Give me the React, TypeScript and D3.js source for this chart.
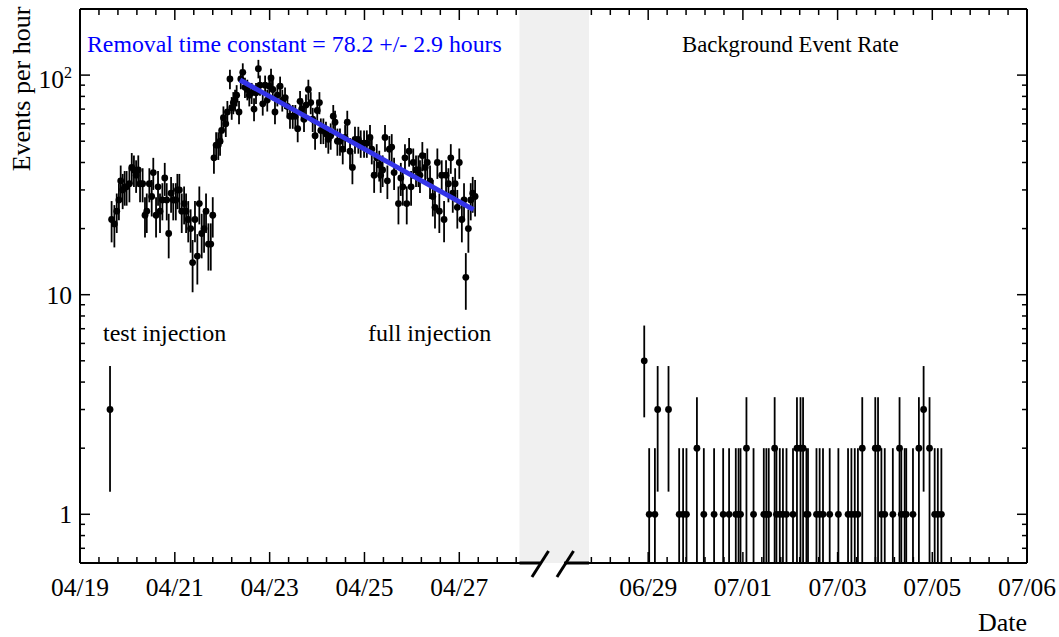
import React from 'react';
import * as d3 from 'd3';

// ---- tick labels (day index counted from 04/19 00:00) ----
const leftDateLabels = ['04/19', '04/21', '04/23', '04/25', '04/27'];
const leftDateDays = [0, 2, 4, 6, 8];
const rightDateLabels = ['06/29', '07/01', '07/03', '07/05', '07/06'];
const rightDateDays = [71, 73, 75, 77, 79];
const yMajorValues = [1, 10, 100];

// axis domain pieces: left panel, broken gap, right panel (days)
const axisDays = [0, 9.27, 69.75, 79];

// ---- data: [hours since 04/19 00:00, events per hour] ----
const testPoint: [number, number][] = [[15.2, 3]];
const testInjection: [number, number][] = [
  [16.0, 22], [17.4, 21], [18.6, 24], [19.7, 27], [20.6, 33], [21.6, 30], [22.6, 31], [23.6, 31],
  [25.0, 32], [26.2, 38], [27.3, 37], [28.4, 35], [29.5, 37], [30.4, 32], [31.7, 32], [32.9, 23],
  [33.8, 24], [35.1, 32], [36.3, 28], [37.1, 36], [38.5, 23], [39.5, 31], [40.5, 24], [41.7, 27],
  [42.9, 34], [43.9, 27], [44.9, 19], [46.1, 29], [47.2, 27], [48.5, 27], [49.3, 30], [50.3, 30],
  [51.5, 24], [52.7, 26], [53.7, 24], [54.8, 22], [56.0, 20], [57.0, 14], [58.2, 22], [59.4, 15],
  [60.4, 26], [61.6, 19], [62.8, 20], [63.8, 24], [65.0, 17], [66.2, 17], [67.2, 23],
];
const fullInjection: [number, number][] = [
  [67.8, 42], [68.9, 48], [70.0, 48], [70.9, 50], [71.7, 56], [72.6, 64], [73.8, 60], [74.6, 68],
  [75.9, 96], [76.8, 71], [77.6, 75], [78.5, 77], [79.3, 81], [80.5, 68], [81.4, 96], [82.4, 103],
  [83.5, 88], [84.7, 86], [85.7, 81], [86.9, 83], [88.1, 70], [89.1, 83], [90.3, 107], [91.1, 90],
  [92.5, 74], [93.7, 90], [94.8, 77], [95.8, 89], [96.7, 97], [97.6, 86], [98.7, 68], [99.9, 81],
  [101.3, 89], [102.4, 77], [103.8, 79], [105.0, 72], [106.3, 65], [107.7, 65], [109.0, 65], [110.2, 57],
  [111.4, 76], [112.2, 70], [113.4, 63], [114.4, 73], [115.6, 86], [116.8, 75], [117.8, 63], [119.0, 53],
  [120.1, 69], [121.2, 75], [121.9, 56], [123.2, 56], [124.5, 54], [125.7, 51], [126.9, 53], [128.2, 65],
  [129.1, 61], [130.3, 50], [131.6, 50], [133.0, 46], [134.2, 52], [135.3, 61], [136.7, 45], [137.9, 38],
  [139.2, 51], [140.9, 51], [142.1, 49], [143.8, 49], [145.2, 49], [146.8, 52], [147.7, 46], [148.9, 35],
  [150.2, 42], [151.5, 39], [152.2, 35], [153.2, 37], [154.4, 52], [155.6, 33], [156.6, 46], [157.8, 47],
  [159.0, 36], [161.2, 26], [162.4, 34], [163.4, 31], [164.5, 42], [165.4, 26], [166.6, 45], [167.6, 31],
  [168.7, 40], [170.1, 37], [171.3, 37], [172.1, 35], [173.3, 43], [174.7, 38], [175.8, 40], [177.2, 33],
  [178.6, 28], [179.7, 25], [180.9, 40], [181.9, 24], [183.1, 35], [184.3, 22], [185.3, 35], [186.5, 32],
  [187.7, 42], [188.7, 29], [189.9, 32], [191.0, 25], [192.0, 40], [193.3, 22], [194.4, 27], [195.3, 12],
  [196.6, 20], [197.8, 27], [198.8, 29], [200.0, 28],
];
// [hours since 06/29 00:00, events per hour]
const backgroundRate: [number, number][] = [
  [-2.0, 5], [0.5, 1], [3.4, 1], [4.8, 3], [10.3, 3], [15.7, 1], [17.7, 1], [19.4, 1],
  [24.7, 2], [28.2, 1], [33.4, 1], [38.0, 1], [41.0, 1], [44.4, 1], [45.8, 1], [46.8, 1],
  [49.8, 2], [53.4, 1], [58.6, 1], [59.9, 1], [61.1, 1], [64.1, 2], [65.0, 1], [66.7, 1],
  [68.3, 1], [70.1, 1], [73.4, 1], [75.4, 2], [77.2, 2], [78.5, 2], [80.2, 1], [81.0, 1],
  [85.3, 1], [86.9, 1], [88.6, 1], [92.0, 1], [96.4, 1], [101.3, 1], [103.0, 1], [104.7, 1],
  [106.3, 1], [108.5, 2], [115.1, 2], [116.5, 2], [118.2, 1], [119.9, 1], [124.0, 1], [127.4, 2],
  [128.3, 1], [130.0, 1], [130.8, 1], [134.2, 1], [137.2, 2], [139.6, 3], [142.6, 2], [145.2, 1],
  [146.8, 1], [148.6, 1],
];
const rightPanelStartDay = 71; // 06/29

// exponential fit drawn from / to: [hours since 04/19, events per hour]
const fitStart: [number, number] = [81.0, 95];
const fitEnd: [number, number] = [199.2, 24.4];

const FONT = "'Liberation Serif', 'DejaVu Serif', serif";

export default function App() {
  const L = 80, R = 1027, T = 9, B = 563;
  const x = d3.scaleLinear().domain(axisDays).range([L, 519.5, 589, R]);
  const y = d3.scaleLog().domain([0.6, 200]).range([B, T]);

  const pts = [
    ...testPoint, ...testInjection, ...fullInjection,
  ].map(([h, v]) => ({ d: h / 24, v }));
  const bg = backgroundRate.map(([h, v]) => ({ d: rightPanelStartDay + h / 24, v }));
  const all = [...pts, ...bg];

  const yMinor: number[] = [];
  [0.1, 1, 10, 100].forEach((dec) => {
    for (let m = 2; m <= 9; m++) {
      const v = m * dec;
      if (v >= 0.6 && v <= 200) yMinor.push(v);
    }
  });

  // x minor ticks every 0.4 day
  const xMinor: number[] = [];
  for (let k = 1; k <= 23; k++) if (k % 5 !== 0) xMinor.push(k * 0.4);
  for (let k = -3; k <= 19; k++) if (k % 5 !== 0) xMinor.push(rightPanelStartDay + k * 0.4);
  const xMajor = [...leftDateDays, ...rightDateDays];
  const xLabels = [...leftDateLabels, ...rightDateLabels];

  const gapX0 = x(axisDays[1]);
  const gapX1 = x(axisDays[2]);
  const gapMid = (gapX0 + gapX1) / 2;

  const fitLine = d3.line<[number, number]>()
    .x((p) => x(p[0] / 24))
    .y((p) => y(p[1]));

  return (
    <svg width={1059} height={637} style={{ position: 'absolute', left: 0, top: 0, background: '#fff' }}
      fontFamily={FONT}>
      <defs>
        <clipPath id="plotclip">
          <rect x={L} y={T} width={R - L} height={B - T} />
        </clipPath>
      </defs>
      <rect x={0} y={0} width={1059} height={637} fill="#fff" />
      {/* gap band */}
      <rect x={gapX0} y={T} width={gapX1 - gapX0} height={B - T} fill="#f0f0f0" />

      {/* data */}
      <g clipPath="url(#plotclip)">
        {all.map((p, i) => {
          const e = Math.sqrt(p.v);
          const lo = p.v - e > 0 ? y(Math.max(p.v - e, 0.3)) : B + 10;
          return (
            <line key={'e' + i} x1={x(p.d)} x2={x(p.d)} y1={y(p.v + e)} y2={lo}
              stroke="#000" strokeWidth={1.8} />
          );
        })}
        {all.map((p, i) => (
          <circle key={'c' + i} cx={x(p.d)} cy={y(p.v)} r={3.4} fill="#000" />
        ))}
        <path d={fitLine([fitStart, fitEnd]) || ''} stroke="#3434e8" strokeWidth={5} fill="none" />
      </g>

      {/* frame */}
      <line x1={L} x2={L} y1={T} y2={B} stroke="#000" strokeWidth={2} />
      <line x1={R} x2={R} y1={T} y2={B} stroke="#000" strokeWidth={2} />
      <line x1={L} x2={R} y1={T} y2={T} stroke="#000" strokeWidth={2} />
      <line x1={L} x2={gapMid - 14} y1={B} y2={B} stroke="#000" strokeWidth={2} />
      <line x1={gapMid + 10} x2={R} y1={B} y2={B} stroke="#000" strokeWidth={2} />
      <line x1={gapX0} x2={gapMid - 14} y1={B} y2={B} stroke="#000" strokeWidth={3} />
      <line x1={gapMid + 10} x2={gapX1} y1={B} y2={B} stroke="#000" strokeWidth={3} />
      {/* break marks */}
      {[-14, 11].map((off, i) => (
        <line key={'br' + i} x1={gapMid + off - 8.3} y1={B + 14} x2={gapMid + off + 8.3} y2={B - 12}
          stroke="#000" strokeWidth={3} />
      ))}

      {/* x ticks (bottom and top) */}
      {xMajor.map((d, i) => (
        <g key={'xM' + i}>
          <line x1={x(d)} x2={x(d)} y1={B} y2={B - 11} stroke="#000" strokeWidth={1.5} />
          <line x1={x(d)} x2={x(d)} y1={T} y2={T + 11} stroke="#000" strokeWidth={1.5} />
          <text x={x(d)} y={596} fontSize={25.5} textAnchor="middle">{xLabels[i]}</text>
        </g>
      ))}
      {xMinor.map((d, i) => (
        <g key={'xm' + i}>
          <line x1={x(d)} x2={x(d)} y1={B} y2={B - 6} stroke="#000" strokeWidth={1.5} />
          <line x1={x(d)} x2={x(d)} y1={T} y2={T + 6} stroke="#000" strokeWidth={1.5} />
        </g>
      ))}

      {/* y ticks (left and right) */}
      {yMajorValues.map((v, i) => (
        <g key={'yM' + i}>
          <line x1={L} x2={L + 10} y1={y(v)} y2={y(v)} stroke="#000" strokeWidth={1.5} />
          <line x1={R} x2={R - 10} y1={y(v)} y2={y(v)} stroke="#000" strokeWidth={1.5} />
        </g>
      ))}
      {yMinor.map((v, i) => (
        <g key={'ym' + i}>
          <line x1={L} x2={L + 5} y1={y(v)} y2={y(v)} stroke="#000" strokeWidth={1.5} />
          <line x1={R} x2={R - 5} y1={y(v)} y2={y(v)} stroke="#000" strokeWidth={1.5} />
        </g>
      ))}
      <text x={72} y={y(1) + 9} fontSize={25.5} textAnchor="end">1</text>
      <text x={72} y={y(10) + 9} fontSize={25.5} textAnchor="end">10</text>
      <text x={72} y={y(100) + 13} fontSize={25.5} textAnchor="end">
        10<tspan fontSize={16} dy={-10}>2</tspan>
      </text>

      {/* titles and annotations */}
      <text transform={`translate(29.5, 89) rotate(-90)`} fontSize={26} textAnchor="middle">Events per hour</text>
      <text x={R} y={631} fontSize={26} textAnchor="end">Date</text>
      <text x={87} y={52} fontSize={23.8} fill="#0000ff">Removal time constant = 78.2 +/- 2.9 hours</text>
      <text x={682} y={52} fontSize={22.7}>Background Event Rate</text>
      <text x={103} y={341} fontSize={24}>test injection</text>
      <text x={368} y={341} fontSize={24}>full injection</text>
    </svg>
  );
}
